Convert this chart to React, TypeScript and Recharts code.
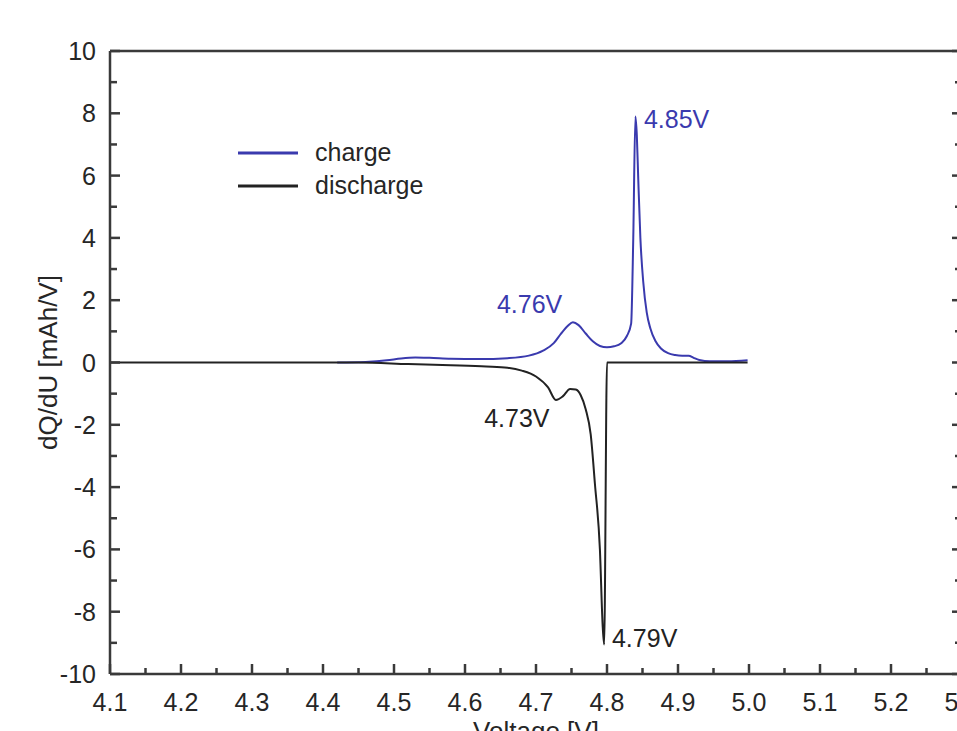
import { LineChart, Line, XAxis, YAxis, Legend, ReferenceDot, Label } from 'recharts'

// charge curve (dQ/dU vs voltage)
const chargeV = [4.42, 4.46, 4.49, 4.51, 4.53, 4.55, 4.58, 4.62, 4.66, 4.69, 4.71, 4.725, 4.735, 4.745, 4.752, 4.76, 4.77, 4.78, 4.79, 4.8, 4.81, 4.82, 4.828, 4.834, 4.837, 4.84, 4.842, 4.844, 4.847, 4.851, 4.856, 4.861, 4.868, 4.876, 4.886, 4.896, 4.906, 4.915, 4.922, 4.93, 4.945, 4.97, 4.998]
const chargeQ = [0, 0.02, 0.07, 0.13, 0.16, 0.15, 0.12, 0.11, 0.14, 0.22, 0.38, 0.62, 0.92, 1.18, 1.29, 1.2, 0.93, 0.68, 0.53, 0.49, 0.52, 0.62, 0.85, 1.25, 4.0, 7.9, 7.3, 5.9, 4.0, 2.6, 1.6, 1.1, 0.7, 0.45, 0.3, 0.24, 0.22, 0.22, 0.15, 0.08, 0.04, 0.04, 0.07]

// discharge curve
const dischargeV = [4.1, 4.3, 4.45, 4.52, 4.58, 4.63, 4.66, 4.68, 4.7, 4.717, 4.728, 4.738, 4.748, 4.756, 4.763, 4.77, 4.777, 4.783, 4.79, 4.794, 4.796, 4.8, 4.85, 4.9, 4.95, 4.998]
const dischargeQ = [0, 0, 0, -0.05, -0.09, -0.13, -0.17, -0.26, -0.45, -0.8, -1.2, -1.08, -0.85, -0.87, -1.05, -1.5, -2.3, -3.9, -6.0, -8.5, -9.05, 0, 0, 0, 0, 0]

const xMajor = [4.1, 4.2, 4.3, 4.4, 4.5, 4.6, 4.7, 4.8, 4.9, 5.0, 5.1, 5.2, 5.3]
const xMinor = [4.15, 4.25, 4.35, 4.45, 4.55, 4.65, 4.75, 4.85, 4.95, 5.05, 5.15, 5.25]
const yMajor = [-10, -8, -6, -4, -2, 0, 2, 4, 6, 8, 10]
const yMinor = [-9, -7, -5, -3, -1, 1, 3, 5, 7, 9]

const peakLabels = [
  { v: 4.852, q: 7.8, text: '4.85V', series: 'charge' },
  { v: 4.645, q: 1.86, text: '4.76V', series: 'charge' },
  { v: 4.627, q: -1.77, text: '4.73V', series: 'discharge' },
  { v: 4.807, q: -8.85, text: '4.79V', series: 'discharge' },
]

const BLUE = '#3a3aae'
const BLACK = '#222222'
const AXIS = '#3a3a3a'
const TEXT = '#262626'
const FONT = '"Liberation Sans", Arial, Helvetica, sans-serif'

const chargeData = chargeV.map((v, i) => ({ v, q: chargeQ[i] }))
const dischargeData = dischargeV.map((v, i) => ({ v, q: dischargeQ[i] }))
const xTicks = [...xMajor, ...xMinor].sort((a, b) => a - b)
const yTicks = [...yMajor, ...yMinor].sort((a, b) => a - b)

const isMajor = (list: number[], val: number) => list.some((m) => Math.abs(m - val) < 1e-6)

const BottomTick = (props: any) => {
  const { x, y, payload } = props
  const major = isMajor(xMajor, payload.value)
  return (
    <g>
      <line x1={x} x2={x} y1={y} y2={y - (major ? 10 : 6)} stroke={AXIS} strokeWidth={2.5} />
      {major && (
        <text x={x} y={y + 37} textAnchor="middle" fontSize={25} fontFamily={FONT} fill={TEXT}>
          {payload.value.toFixed(1)}
        </text>
      )}
    </g>
  )
}

const TopTick = (props: any) => {
  const { x, y, payload } = props
  const major = isMajor(xMajor, payload.value)
  return <line x1={x} x2={x} y1={y} y2={y + (major ? 10 : 6)} stroke={AXIS} strokeWidth={2.5} />
}

const LeftTick = (props: any) => {
  const { x, y, payload } = props
  const major = isMajor(yMajor, payload.value)
  return (
    <g>
      <line x1={x} x2={x + (major ? 10 : 7)} y1={y} y2={y} stroke={AXIS} strokeWidth={2.5} />
      {major && (
        <text x={x - 14} y={y + 9} textAnchor="end" fontSize={25} fontFamily={FONT} fill={TEXT}>
          {payload.value}
        </text>
      )}
    </g>
  )
}

const RightTick = (props: any) => {
  const { x, y, payload } = props
  const major = isMajor(yMajor, payload.value)
  return <line x1={x} x2={x - (major ? 10 : 7)} y1={y} y2={y} stroke={AXIS} strokeWidth={2.5} />
}

const LegendBox = (props: any) => {
  const { payload } = props
  return (
    <div style={{ fontFamily: FONT }}>
      {(payload || []).map((p: any) => (
        <div key={p.value} style={{ display: 'flex', alignItems: 'center', height: 33 }}>
          <svg width={60} height={4} style={{ display: 'block' }}>
            <line x1={0} x2={60} y1={2} y2={2} stroke={p.color} strokeWidth={3} />
          </svg>
          <span style={{ marginLeft: 17, fontSize: 25, color: TEXT, lineHeight: '33px' }}>{p.value}</span>
        </div>
      ))}
    </div>
  )
}

export default function App() {
  return (
    <div style={{ position: 'absolute', left: 0, top: 0, width: 957, height: 731, overflow: 'hidden', background: '#fff' }}>
      <LineChart width={980} height={731} margin={{ top: 50, right: 8, bottom: 0, left: 0 }}>
        <XAxis
          xAxisId="x"
          dataKey="v"
          type="number"
          domain={[4.1, 5.3]}
          allowDataOverflow
          ticks={xTicks}
          interval={0}
          tickSize={0}
          tickMargin={0}
          tick={<BottomTick />}
          height={57}
          axisLine={{ stroke: AXIS, strokeWidth: 2.5 }}
        >
          <Label
            position="insideBottom"
            content={(lp: any) => {
              const vb = lp.viewBox || {}
              return (
                <text x={vb.x + vb.width / 2} y={vb.y + vb.height + 9} textAnchor="middle" fontSize={26} fontFamily={FONT} fill={TEXT}>
                  Voltage [V]
                </text>
              )
            }}
          />
        </XAxis>
        <XAxis
          xAxisId="top"
          orientation="top"
          type="number"
          domain={[4.1, 5.3]}
          allowDataOverflow
          ticks={xTicks}
          interval={0}
          tickSize={0}
          tickMargin={0}
          tick={<TopTick />}
          height={1}
          axisLine={{ stroke: AXIS, strokeWidth: 2.5 }}
        />
        <YAxis
          yAxisId="y"
          type="number"
          domain={[-10, 10]}
          allowDataOverflow
          ticks={yTicks}
          interval={0}
          tickSize={0}
          tickMargin={0}
          tick={<LeftTick />}
          width={110}
          axisLine={{ stroke: AXIS, strokeWidth: 2.5 }}
        >
          <Label
            position="insideLeft"
            content={(lp: any) => {
              const vb = lp.viewBox || {}
              const cx = 48
              const cy = vb.y + vb.height / 2
              return (
                <text
                  x={cx}
                  y={cy}
                  transform={`rotate(-90 ${cx} ${cy})`}
                  textAnchor="middle"
                  dominantBaseline="central"
                  fontSize={26}
                  fontFamily={FONT}
                  fill={TEXT}
                >
                  dQ/dU [mAh/V]
                </text>
              )
            }}
          />
        </YAxis>
        <YAxis
          yAxisId="right"
          orientation="right"
          type="number"
          domain={[-10, 10]}
          allowDataOverflow
          ticks={yTicks}
          interval={0}
          tickSize={0}
          tickMargin={0}
          tick={<RightTick />}
          width={10}
          axisLine={{ stroke: AXIS, strokeWidth: 2.5 }}
        />
        <Legend
          layout="vertical"
          align="center"
          verticalAlign="middle"
          content={<LegendBox />}
          wrapperStyle={{ left: 238, top: 136, width: 'auto' }}
        />
        <Line
          xAxisId="x"
          yAxisId="y"
          data={chargeData}
          dataKey="q"
          name="charge"
          type="monotone"
          stroke={BLUE}
          strokeWidth={2}
          dot={false}
          isAnimationActive={false}
        />
        <Line
          xAxisId="x"
          yAxisId="y"
          data={dischargeData}
          dataKey="q"
          name="discharge"
          type="monotone"
          stroke={BLACK}
          strokeWidth={2}
          dot={false}
          isAnimationActive={false}
        />
        {peakLabels.map((p) => (
          <ReferenceDot
            key={p.text}
            xAxisId="x"
            yAxisId="y"
            x={p.v}
            y={p.q}
            r={0}
            fill="none"
            stroke="none"
            label={{
              value: p.text,
              position: 'right',
              offset: 0,
              fill: p.series === 'charge' ? BLUE : BLACK,
              fontSize: 25,
              fontFamily: FONT,
            }}
          />
        ))}
      </LineChart>
    </div>
  )
}
